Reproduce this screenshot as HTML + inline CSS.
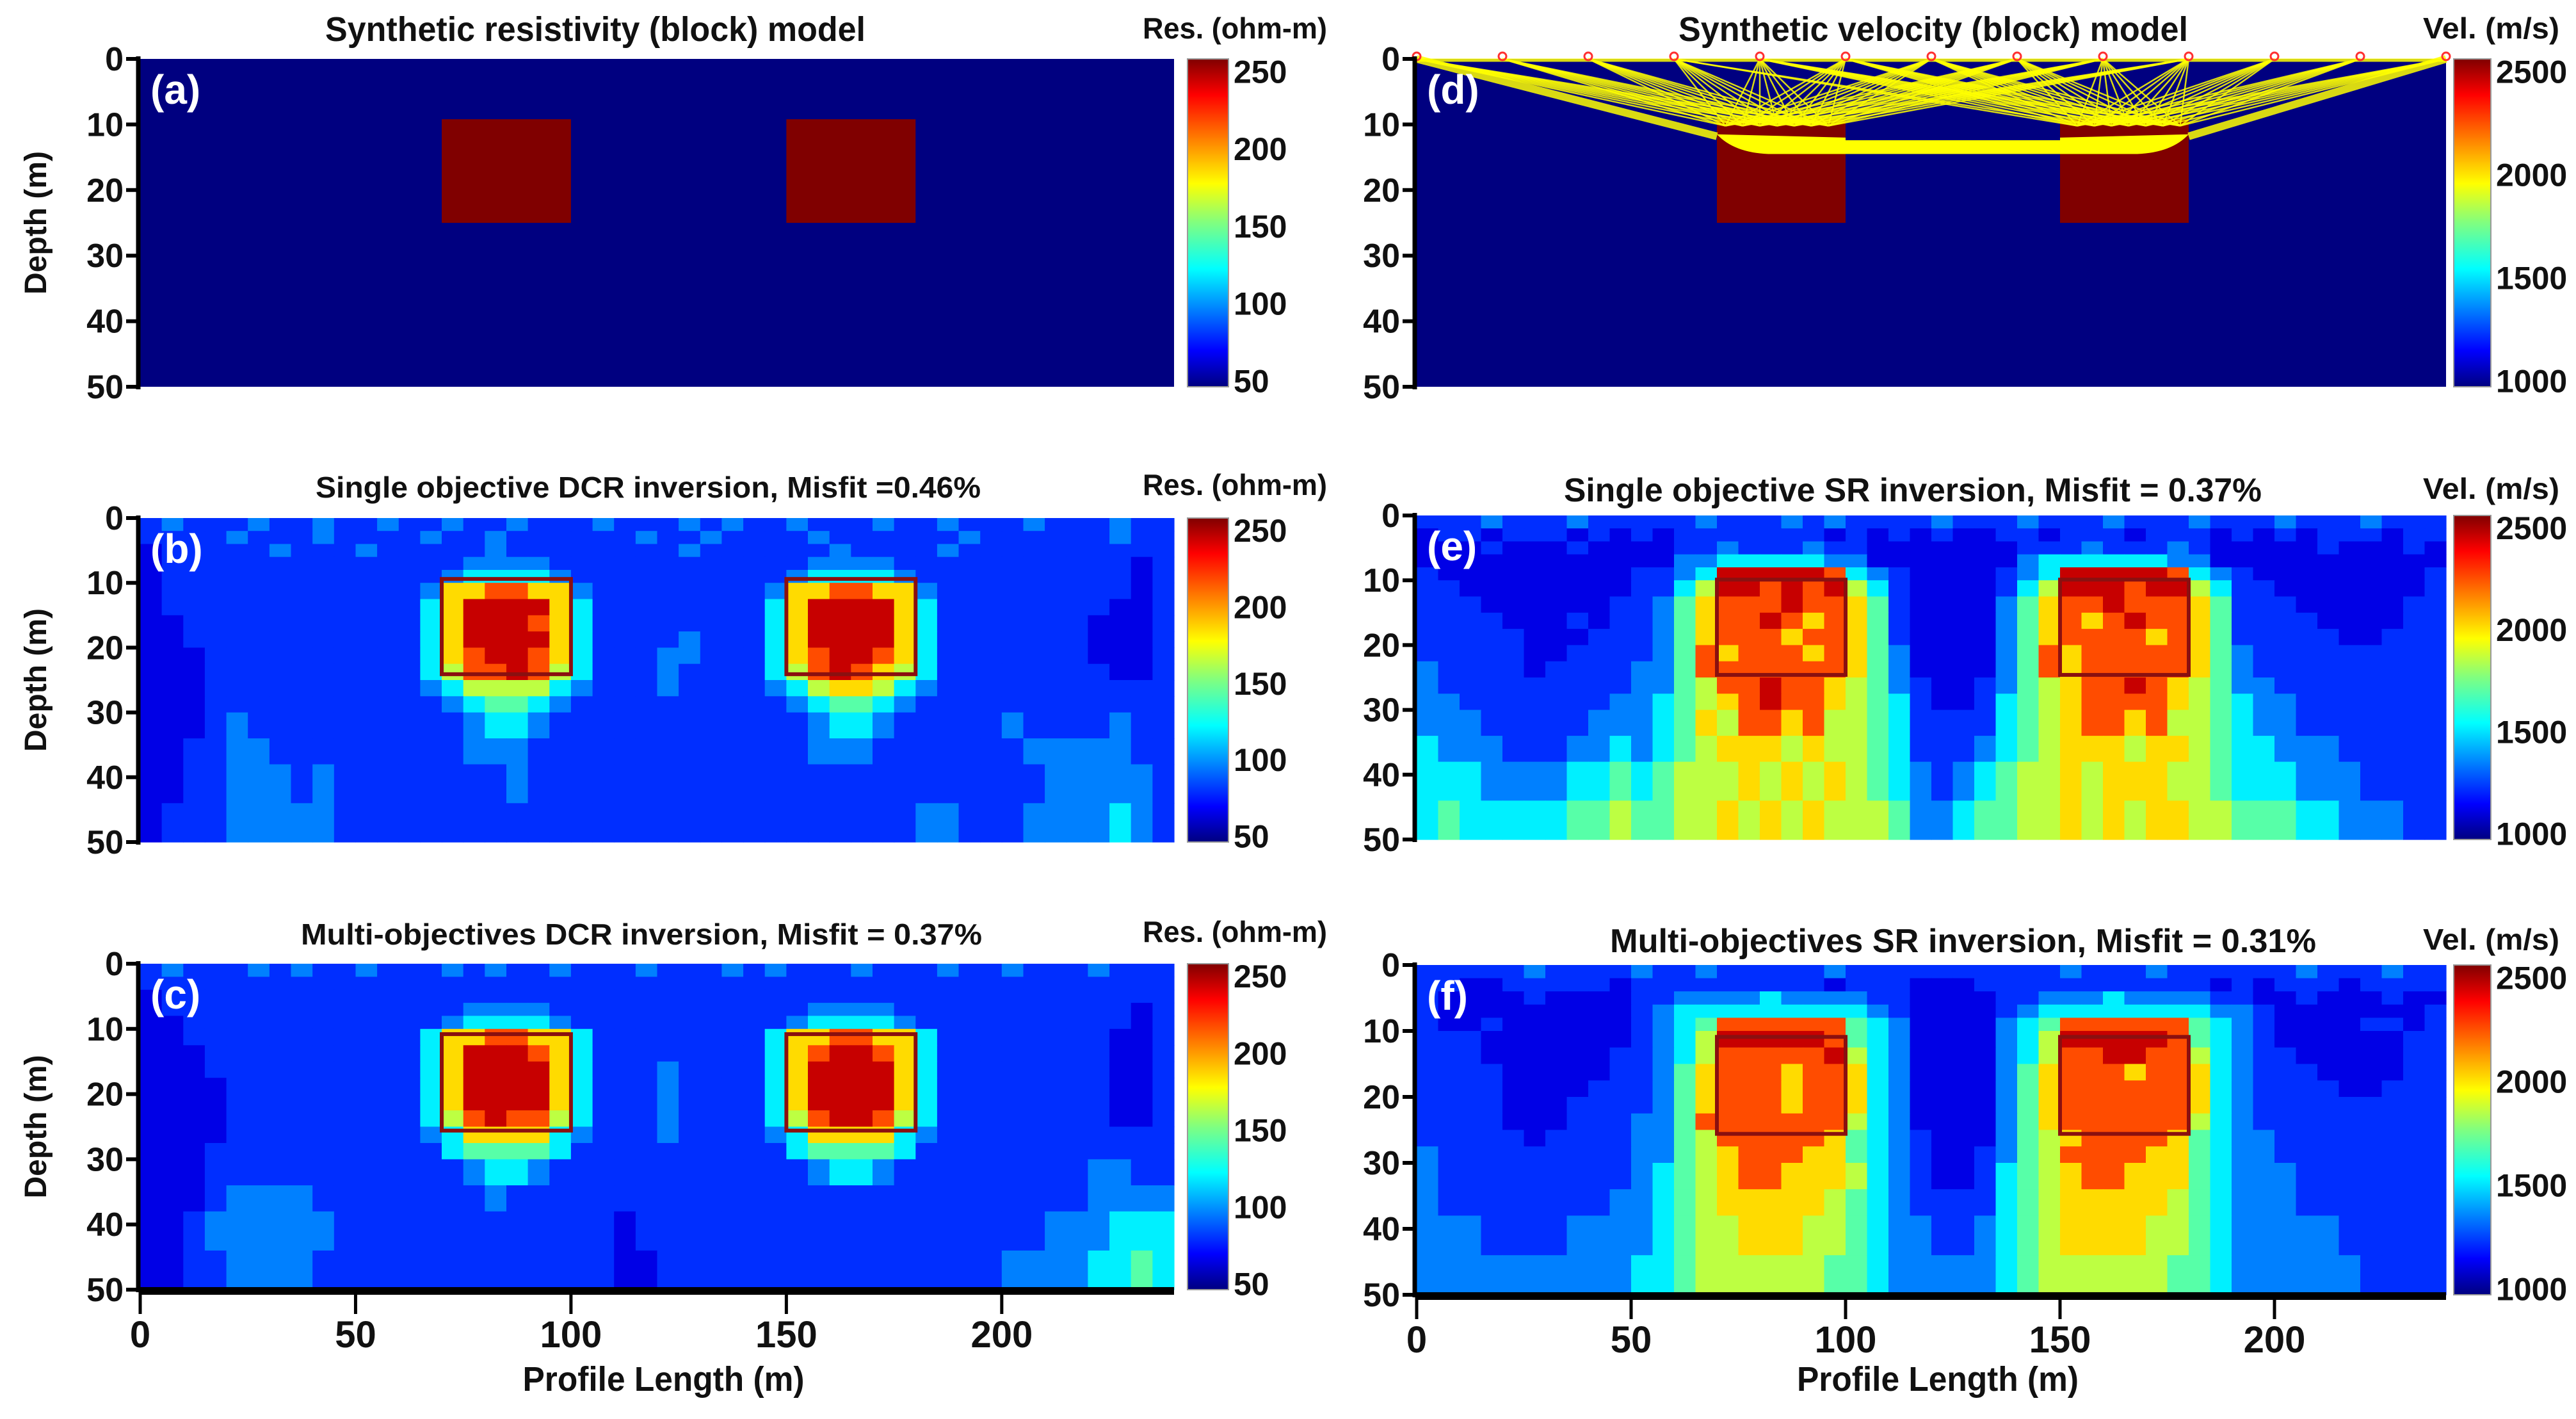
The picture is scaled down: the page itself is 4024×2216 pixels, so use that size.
<!DOCTYPE html>
<html><head><meta charset="utf-8">
<style>
html,body{margin:0;padding:0;background:#fff;}
svg{display:block;}
text{font-family:"Liberation Sans Narrow","Liberation Sans",sans-serif;font-weight:bold;fill:#111;}
</style></head>
<body>
<svg id="fig" width="4024" height="2216" viewBox="0 0 4024 2216" xmlns="http://www.w3.org/2000/svg">
<defs>
<linearGradient id="jet" x1="0" y1="1" x2="0" y2="0">
<stop offset="0" stop-color="#000080"/><stop offset="0.11" stop-color="#0000ff"/>
<stop offset="0.36" stop-color="#00ffff"/><stop offset="0.5" stop-color="#80ff80"/>
<stop offset="0.62" stop-color="#ffff00"/><stop offset="0.89" stop-color="#ff0000"/>
<stop offset="1" stop-color="#800000"/></linearGradient>
</defs>
</svg>
<script>
// ---- data ----
const depthEdges = [0,2,4,6,8,10,12.5,15,17.5,20,22.5,25,27.5,30,34,38,44,50];
const xTicks = [0,50,100,150,200];
const yTicks = [0,10,20,30,40,50];
const resTicks = [50,100,150,200,250];
const velTicks = [1000,1500,2000,2500];
const blocksX = [[70,100],[150,180]];
const blockDepth = [10,25];
const sources = [0,20,40,60,80,100,120,140,160,180,200,220,240];
const outlineB = [9.4,24.1];
const outlineC = [10.8,25.6];
const outlineE = [9.9,24.6];
const outlineF = [10.9,25.6];
const gridB = [
"2322232232232 23223222 32223232 23222322 32223222322",
"2222322232222 32232222 22322322 22322222 23222222322",
"1222223222322 22232222 22223222 22232222 32222222222",
"1222222222222 22333322 22222222 22333322 22222222212",
"1222222222222 23444432 22222222 23444432 22222222212",
"1222222222222 37788773 22222222 37788773 22222222212",
"1222222222222 47999974 22222222 47999974 22222222112",
"1122222222222 47999874 22222222 47999974 22222221112",
"1122222222222 47999974 22223222 47999974 22222221112",
"1112222222222 47899874 22233222 47899874 22222221112",
"1112222222222 46889864 22232222 46898764 22222222112",
"1112222222222 34666643 22232222 34677643 22222222222",
"1112222222222 23455432 22222222 23455432 22222222222",
"1112322222222 22344322 22222222 22344322 22232222322",
"1122332222222 22333222 22222222 22333222 22223333322",
"1122333232222 22223222 22222222 22222222 22222333332",
"1222333332222 22222222 22222222 22222223 32223333432"];
const gridC = [
"2322232322322 23232232 22322232 32223222 32232223222",
"2222222222222 22222222 22222222 22222222 22222222222",
"1222222222222 22222222 22222222 22222222 22222222222",
"1222222222222 22333322 22222222 22333322 22222222212",
"1122222222222 23444432 22222222 23444432 22222222212",
"1122222222222 47788774 22222222 47788774 22222222112",
"1112222222222 47999874 22222222 47899874 22222222112",
"1112222222222 47999974 22232222 47999974 22222222112",
"1111222222222 47999974 22232222 47999974 22222222112",
"1111222222222 47999974 22232222 47999974 22222222112",
"1111222222222 46898864 22232222 46899864 22222222112",
"1111222222222 34777743 22232222 34777743 22222222222",
"1112222222222 24555542 22222222 24555542 22222222222",
"1112222222222 22344322 22222222 22344322 22222223322",
"1112333322222 22232222 22222222 22222222 22222223333",
"1123333332222 22222222 21222222 22222222 22222333444",
"1122333322222 22222222 21122222 22222222 22233334454"];
const gridE = [
"22232223222 223222323222 2322 232223222322 232223222",
"12212221212 122222221212 1211 221222122212 121222122",
"11121112111 122322232211 1111 122232223211 111211121",
"11111111111 133444443311 1111 134444443311 111111111",
"21111111112 234999998432 1111 234999998432 111111112",
"22111111112 246998989642 1111 246999899642 211111112",
"22211111122 357888988752 1111 357889888752 221111122",
"22221112122 357889878752 1111 357878988752 222111122",
"22222111222 357888788752 1111 357888878752 222211222",
"22222112222 358788878753 1111 358788888753 222222222",
"32222122223 358888888753 1111 358788888753 222222222",
"32222222223 356889887653 2112 356788987653 322222222",
"33222222233 456789887654 2112 456788887654 332222222",
"33322222333 457688786654 2222 456788786654 332222222",
"43332223343 456777676654 2223 456777677654 433322222",
"44433334454 566676767654 3234 566767776654 443332222",
"45444445565 566767676665 3345 566767677665 554433322"];
const gridF = [
"22222322223 223222223222 2222 222322232222 223222322",
"22112222212 222222221222 1112 222222222212 122212222",
"21111211112 233334333322 1111 223334333322 112111211",
"21111111112 344444444432 1111 234444444433 211111112",
"21121111112 345888888543 1111 345888888543 211112212",
"22211111112 346999998543 1111 346999998543 211111122",
"22211111122 346888889643 1111 346889988643 221111122",
"22221111122 357888788743 1111 357888788743 222111122",
"22221111222 357888788743 1111 357888888743 222211222",
"22221112222 357888788743 1111 357888888743 222222222",
"22221112223 358888888643 1111 357888888643 222222222",
"22222122223 356888887543 2111 356788887543 322222222",
"32222222223 356788877543 2112 356888877543 322222222",
"32222222223 456788777643 2112 456788777543 332222222",
"32222222233 456777776543 2222 456777776543 332222222",
"33322223333 456677766543 3223 456777766543 333322222",
"33333333334 456666665543 3333 456666665543 333332222"];
const levelT = [0.03,0.1,0.17,0.25,0.36,0.46,0.56,0.66,0.8,0.93];

// ---- helpers ----
const NS="http://www.w3.org/2000/svg";
const svg=document.getElementById('fig');
function mk(tag,attrs,parent){const e=document.createElementNS(NS,tag);for(const k in attrs)e.setAttribute(k,attrs[k]);(parent||svg).appendChild(e);return e;}
function jet(t){const c=v=>Math.round(255*Math.max(0,Math.min(1,v)));return `rgb(${c(1.5-Math.abs(4*t-3))},${c(1.5-Math.abs(4*t-2))},${c(1.5-Math.abs(4*t-1))})`;}
function xs(P,v){return P.x0+(v/240)*(P.x1-P.x0);}
function ys(P,d){return P.y0+(d/50)*(P.y1-P.y0);}

const panels={
 a:{x0:219,x1:1834,y0:92,y1:604,label:'(a)',title:'Synthetic resistivity (block) model',tx:508,tw:844,ty:64,fs:54,cb:'res',cbx:1855,cbw:64,ctx:1785,ctw:288},
 b:{x0:219,x1:1834,y0:809,y1:1315,label:'(b)',title:'Single objective DCR inversion, Misfit =0.46%',tx:493,tw:1039,ty:777,fs:46,cb:'res',cbx:1855,cbw:64,ctx:1785,ctw:288,grid:gridB,outline:outlineB},
 c:{x0:219,x1:1834,y0:1505,y1:2014,label:'(c)',title:'Multi-objectives DCR inversion, Misfit = 0.37%',tx:470,tw:1064,ty:1475,fs:46,cb:'res',cbx:1855,cbw:64,ctx:1785,ctw:288,grid:gridC,outline:outlineC,xaxis:true},
 d:{x0:2213,x1:3821,y0:92,y1:604,label:'(d)',title:'Synthetic velocity (block) model',tx:2622,tw:796,ty:64,fs:54,cb:'vel',cbx:3833,cbw:58,ctx:3785,ctw:213},
 e:{x0:2213,x1:3821,y0:805,y1:1311,label:'(e)',title:'Single objective SR inversion, Misfit = 0.37%',tx:2443,tw:1090,ty:783,fs:52,cb:'vel',cbx:3833,cbw:58,ctx:3785,ctw:213,grid:gridE,outline:outlineE},
 f:{x0:2213,x1:3821,y0:1507,y1:2022,label:'(f)',title:'Multi-objectives SR inversion, Misfit = 0.31%',tx:2515,tw:1103,ty:1487,fs:52,cb:'vel',cbx:3833,cbw:58,ctx:3785,ctw:213,grid:gridF,outline:outlineF,xaxis:true}
};

for(const key in panels){
 const P=panels[key];
 const g=mk('g',{});
 
 
 if(P.grid){
  P.grid.forEach((rowStr,r)=>{
   const row=rowStr.replace(/ /g,'');
   const ya=ys(P,depthEdges[r]), yb=ys(P,depthEdges[r+1]);
   for(let c=0;c<48;c++){
    const code=+(row[c]||'2');
    const cell=mk('rect',{x:xs(P,c*5).toFixed(1),y:ya.toFixed(1),width:(xs(P,c*5+5)-xs(P,c*5)+0.6).toFixed(1),height:(yb-ya+0.6).toFixed(1),fill:jet(levelT[code])},g);
    
    
   }
  });
  blocksX.forEach(b=>{
   const o=mk('rect',{x:xs(P,b[0]),y:ys(P,P.outline[0]),width:xs(P,b[1])-xs(P,b[0]),height:ys(P,P.outline[1])-ys(P,P.outline[0]),fill:'none',stroke:'#8a1010','stroke-width':6},g);
   
   
  });
 } else {
  const bg=mk('rect',{x:P.x0,y:P.y0,width:P.x1-P.x0,height:P.y1-P.y0,fill:'#000080'},g);
  
  
  blocksX.forEach(b=>{
   const r=mk('rect',{x:xs(P,b[0]),y:ys(P,blockDepth[0]-0.8),width:xs(P,b[1])-xs(P,b[0]),height:ys(P,blockDepth[1])-ys(P,blockDepth[0]-0.8),fill:'#800000'},g);
   
   
  });
  if(key==='d'){
   const rg=mk('g',{stroke:'#ffff00','stroke-width':2.5,fill:'none','stroke-opacity':0.85},g);
   
   
   const yel='#ffff00';
   mk('path',{d:`M${xs(P,70)},${ys(P,11.5)} Q${xs(P,74)},${ys(P,14.3)} ${xs(P,82)},${ys(P,14.5)} L${xs(P,100)},${ys(P,14.5)} L${xs(P,100)},${ys(P,12)} L${xs(P,70)},${ys(P,11.5)}Z`,fill:yel,stroke:'none'},rg);
   mk('path',{d:`M${xs(P,180)},${ys(P,11.5)} Q${xs(P,176)},${ys(P,14.3)} ${xs(P,168)},${ys(P,14.5)} L${xs(P,150)},${ys(P,14.5)} L${xs(P,150)},${ys(P,12)} L${xs(P,180)},${ys(P,11.5)}Z`,fill:yel,stroke:'none'},rg);
   mk('rect',{x:xs(P,100),y:ys(P,12.4),width:xs(P,150)-xs(P,100),height:ys(P,14.5)-ys(P,12.4),fill:yel,stroke:'none'},rg);
   mk('line',{x1:xs(P,0),y1:ys(P,0),x2:xs(P,70),y2:ys(P,11.8),'stroke-width':12},rg);
   mk('line',{x1:xs(P,240),y1:ys(P,0),x2:xs(P,180),y2:ys(P,11.8),'stroke-width':12},rg);
   mk('line',{x1:xs(P,0),y1:ys(P,0.2),x2:xs(P,240),y2:ys(P,0.2),'stroke-width':5},rg);
   const targets=[72,76,80,84,88,92,96,154,158,162,166,170,174,178];
   sources.forEach(s=>{
    targets.forEach(t=>{
     if(Math.abs(s-t)>100) return;
     const ln=mk('line',{x1:xs(P,s),y1:ys(P,0),x2:xs(P,t),y2:ys(P,10.2)},rg);
     
     
    });
   });
   sources.forEach(s=>{
    const m=mk('circle',{cx:xs(P,s),cy:P.y0-4,r:6,fill:'none',stroke:'#ff3030','stroke-width':3},g);
    
    
   });
  }
 }
 const lb=mk('text',{x:P.x0+16,y:P.y0+70,'font-size':64,style:'fill:#fff'},g);
 lb.textContent=P.label;
 
 
 const tt=mk('text',{x:P.tx,y:P.ty,'font-size':P.fs,textLength:P.tw,lengthAdjust:'spacingAndGlyphs'},g);
 tt.textContent=P.title;
 
 
 mk('line',{x1:P.x0-3,y1:P.y0-4,x2:P.x0-3,y2:P.y1+4,stroke:'#000','stroke-width':7},g);
 yTicks.forEach(d=>{
  const y=ys(P,d);
  mk('line',{x1:P.x0-22,y1:y,x2:P.x0,y2:y,stroke:'#000','stroke-width':6},g);
  const t=mk('text',{x:P.x0-26,y:y+18,'font-size':52,'text-anchor':'end'},g);
  t.textContent=d;
  
  
 });
 if(key<'d'){
  const yl=mk('text',{x:0,y:0,'font-size':48,'text-anchor':'middle',transform:`translate(${72},${(P.y0+P.y1)/2}) rotate(-90)`,style:'font-family:"Liberation Sans",sans-serif'},g);
  yl.textContent='Depth (m)';
  
  
 }
 if(P.xaxis){
  mk('line',{x1:P.x0,y1:P.y1+2,x2:P.x1,y2:P.y1+2,stroke:'#000','stroke-width':12},g);
  xTicks.forEach(v=>{
   const x=xs(P,v);
   mk('line',{x1:x,y1:P.y1,x2:x,y2:P.y1+38,stroke:'#000','stroke-width':5},g);
   const t=mk('text',{x:x,y:P.y1+90,'font-size':58,'text-anchor':'middle'},g);
   t.textContent=v;
   
   
  });
  const xl=mk('text',{x:(P.x0+P.x1)/2+10,y:2172,'font-size':54,'text-anchor':'middle',textLength:440,lengthAdjust:'spacingAndGlyphs'},g);
  xl.textContent='Profile Length (m)';
  
  
 }
 const cbg=mk('g',{},g);
 
 
 mk('rect',{x:P.cbx,y:P.y0,width:P.cbw,height:P.y1-P.y0,fill:'url(#jet)',stroke:'#999','stroke-width':2},cbg);
 const ticks=P.cb==='res'?resTicks:velTicks;
 const dom=P.cb==='res'?[46,258]:[970,2560];
 ticks.forEach(v=>{
  const y=P.y1-(v-dom[0])/(dom[1]-dom[0])*(P.y1-P.y0);
  const t=mk('text',{x:P.cbx+P.cbw+8,y:y+18,'font-size':50},cbg);
  t.textContent=v;
  
  
 });
 const ct=mk('text',{x:P.ctx,y:P.ty-4,'font-size':46,textLength:P.ctw,lengthAdjust:'spacingAndGlyphs'},cbg);
 ct.textContent=P.cb==='res'?'Res. (ohm-m)':'Vel. (m/s)';
 
 
}
</script>
</body></html>
